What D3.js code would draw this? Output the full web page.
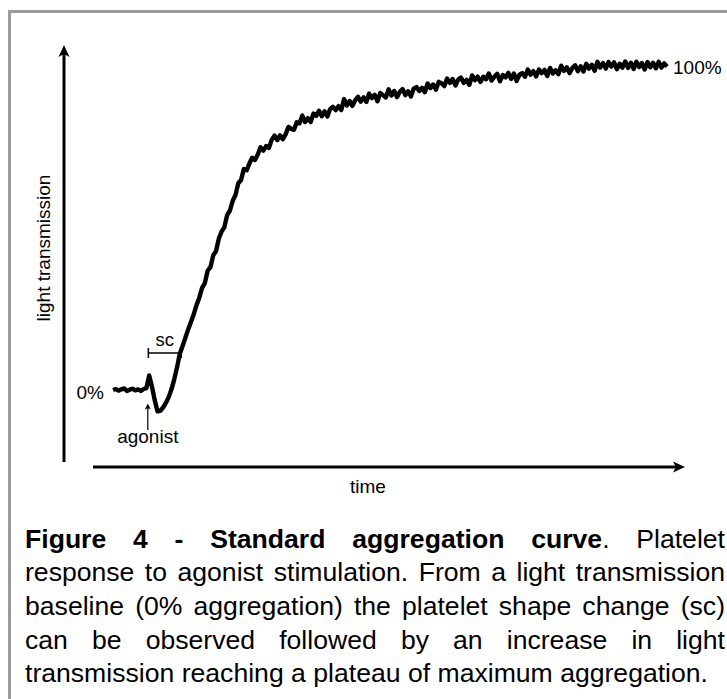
<!DOCTYPE html>
<html>
<head>
<meta charset="utf-8">
<script src="https://cdn.jsdelivr.net/npm/d3@7"></script>
<style>
	body { margin: 0; background: #fff; }
	svg { display: block; font-family: "Liberation Sans", Arial, Helvetica, sans-serif; }
</style>
</head>
<body>
<svg id="chart" width="727" height="699"></svg>
<script>
// light transmission (% aggregation), one sample per time step
var transmission = [
	0, 0.3, -0.2, 0.2, 0.5, -0.3, 0.1, 0.4, -0.1, 0.2, -0.3, 0.3, 0.6,
	4.5, 1.0, -3.2, -6.6, -6.4, -5.4, -4.0, -2.2, 0.2, 3.3, 7.0, 11.2, 13.6,
	16.1, 18.7, 21.0, 23.4, 26.2, 28.5, 31.5, 33.0, 36.8, 37.9, 41.6, 42.8, 46.7,
	48.9, 50.2, 54.0, 55.4, 58.4, 60.2, 63.8, 64.8, 68.2, 67.8, 69.9, 71.7,
	71.0, 72.7, 74.9, 73.9, 75.3, 74.7, 77.2, 78.5, 77.1, 78.6,
	77.4, 78.9, 81.2, 80.6, 80.3, 82.6, 82.3, 84.7, 82.7, 83.9,
	82.7, 85.3, 84.6, 86.2, 84.5, 86.0, 84.4, 86.7, 87.4, 86.4,
	87.6, 86.4, 89.8, 87.8, 89.2, 87.7, 89.4, 90.5, 89.0, 90.3,
	88.9, 91.5, 90.1, 91.1, 89.1, 91.7, 91.0, 90.3, 92.8, 90.9,
	92.3, 90.4, 92.0, 92.9, 91.0, 92.2, 90.6, 93.0, 93.5, 92.3,
	93.3, 91.9, 94.6, 93.2, 94.3, 92.7, 95.1, 94.7, 93.8, 96.1,
	94.8, 96.0, 94.0, 95.8, 96.4, 94.8, 95.7, 94.2, 97.1, 95.6,
	96.7, 95.1, 96.7, 95.9, 97.7, 95.5, 96.7, 97.6, 95.3, 97.2,
	96.5, 97.9, 96.0, 97.7, 95.4, 97.3, 97.8, 96.7, 98.9, 97.3,
	98.4, 96.8, 98.9, 97.8, 98.8, 96.9, 99.4, 97.7, 98.7, 97.5,
	100.1, 98.5, 99.6, 97.8, 99.4, 100.2, 98.4, 99.9, 98.3, 100.7,
	99.2, 100.4, 98.5, 101.3, 99.5, 100.9, 99.2, 101.2, 99.8, 101.1,
	99.0, 100.7, 99.5, 101.4, 99.4, 101.0, 99.1, 101.3, 99.7, 100.9,
	98.9, 101.2, 99.6, 101.0, 99.3, 101.3, 99.5, 100.8, 99.8
];

var levelValues = [0, 100];
var levelLabels = ['0%', '100%'];
var agonistTime = 12.5;
var scTimes = [12.7, 24.5];
var yTitle = 'light transmission';
var xTitle = 'time';

var captionLines = [
	'Figure 4 - Standard aggregation curve. Platelet',
	'response to agonist stimulation. From a light transmission',
	'baseline (0% aggregation) the platelet shape change (sc)',
	'can be observed followed by an increase in light',
	'transmission reaching a plateau of maximum aggregation.'
];
var boldWords = 6; // "Figure 4 - Standard aggregation curve"

var width = 727;
var height = 699;
var labelSize = 19;
var captionSize = 26.6;

var svg = d3.select('#chart');

// FRAME
svg
	.append('path')
	.attr('d', 'M9.5,' + height + 'V11.5H' + width)
	.attr('fill', 'none')
	.attr('stroke', '#9b9b9b')
	.attr('stroke-width', 3);

var x = d3
	.scaleLinear()
	.domain([0, transmission.length - 1])
	.range([113, 667]);

var y = d3
	.scaleLinear()
	.domain([0, 100])
	.range([390, 66]);

// ARROW HEADS
var defs = svg.append('defs');
defs
	.append('marker')
	.attr('id', 'arrow')
	.attr('markerUnits', 'userSpaceOnUse')
	.attr('viewBox', '0 0 12 12')
	.attr('refX', 3)
	.attr('refY', 6)
	.attr('markerWidth', 12)
	.attr('markerHeight', 12)
	.attr('orient', 'auto')
	.append('path')
	.attr('d', 'M0,0.5L12,6L0,11.5L3,6Z')
	.attr('fill', '#000');

defs
	.append('marker')
	.attr('id', 'arrowSmall')
	.attr('markerUnits', 'userSpaceOnUse')
	.attr('viewBox', '0 0 6 6')
	.attr('refX', 1.5)
	.attr('refY', 3)
	.attr('markerWidth', 6)
	.attr('markerHeight', 6)
	.attr('orient', 'auto')
	.append('path')
	.attr('d', 'M0,0L6,3L0,6L1.5,3Z')
	.attr('fill', '#000');

// AXES
svg
	.append('line')
	.attr('x1', 64).attr('y1', 462)
	.attr('x2', 64).attr('y2', 54)
	.attr('stroke', '#000')
	.attr('stroke-width', 3)
	.attr('marker-end', 'url(#arrow)');

svg
	.append('line')
	.attr('x1', 93).attr('y1', 467)
	.attr('x2', 676).attr('y2', 467)
	.attr('stroke', '#000')
	.attr('stroke-width', 3)
	.attr('marker-end', 'url(#arrow)');

svg
	.append('text')
	.attr('transform', 'translate(50,248) rotate(-90)')
	.attr('text-anchor', 'middle')
	.attr('font-size', labelSize)
	.text(yTitle);

svg
	.append('text')
	.attr('x', 368)
	.attr('y', 493)
	.attr('text-anchor', 'middle')
	.attr('font-size', labelSize)
	.text(xTitle);

// CURVE
var line = d3
	.line()
	.x(function(d, i){ return x(i); })
	.y(function(d){ return y(d); });

svg
	.append('path')
	.datum(transmission)
	.attr('d', line)
	.attr('fill', 'none')
	.attr('stroke', '#000')
	.attr('stroke-width', 4.4)
	.attr('stroke-linejoin', 'round');

// 0% / 100% LABELS
svg
	.selectAll('.level')
	.data(levelValues)
	.enter()
	.append('text')
	.attr('class', 'level')
	.attr('x', function(d, i){ return i == 0 ? x(0) - 9 : x(transmission.length - 1) + 6; })
	.attr('y', function(d, i){ return y(d) + (i == 0 ? 9 : 8); })
	.attr('text-anchor', function(d, i){ return i == 0 ? 'end' : 'start'; })
	.attr('font-size', labelSize)
	.text(function(d, i){ return levelLabels[i]; });

// SHAPE CHANGE BAR
var scY = 353;
svg
	.append('line')
	.attr('x1', x(scTimes[0])).attr('x2', x(scTimes[1]))
	.attr('y1', scY).attr('y2', scY)
	.attr('stroke', '#000')
	.attr('stroke-width', 1.5);

svg
	.selectAll('.sctick')
	.data(scTimes)
	.enter()
	.append('line')
	.attr('class', 'sctick')
	.attr('x1', function(d){ return x(d); })
	.attr('x2', function(d){ return x(d); })
	.attr('y1', scY - 5)
	.attr('y2', scY + 5)
	.attr('stroke', '#000')
	.attr('stroke-width', 1.5);

svg
	.append('text')
	.attr('x', x(d3.mean(scTimes)))
	.attr('y', scY - 7)
	.attr('text-anchor', 'middle')
	.attr('font-size', 18.5)
	.text('sc');

// AGONIST ARROW
svg
	.append('line')
	.attr('x1', x(agonistTime)).attr('x2', x(agonistTime))
	.attr('y1', 430).attr('y2', 408)
	.attr('stroke', '#000')
	.attr('stroke-width', 1.2)
	.attr('marker-end', 'url(#arrowSmall)');

svg
	.append('text')
	.attr('x', x(agonistTime))
	.attr('y', 443)
	.attr('text-anchor', 'middle')
	.attr('font-size', labelSize)
	.text('agonist');

// CAPTION (justified, last line left aligned)
var captionLeft = 25;
var captionRight = 725;
var captionTop = 547.5;
var lineStep = 33.7;

captionLines.forEach(function(str, li){
	var words = str.split(' ');
	var g = svg.append('g').attr('class', 'caption-line');
	var items = words.map(function(w, wi){
		var t = g
			.append('text')
			.attr('y', captionTop + li * lineStep)
			.attr('font-size', captionSize);
		if (li == 0 && wi < boldWords) {
			var core = w.replace(/\.$/, '');
			t.append('tspan').attr('font-weight', 'bold').text(core);
			if (core != w) t.append('tspan').text('.');
		} else {
			t.text(w);
		}
		return t;
	});
	var widths = items.map(function(t){ return t.node().getComputedTextLength(); });
	var gap = (li < captionLines.length - 1)
		? (captionRight - captionLeft - d3.sum(widths)) / (words.length - 1)
		: captionSize * 0.278;
	var cx = captionLeft;
	items.forEach(function(t, i){
		t.attr('x', cx);
		cx += widths[i] + gap;
	});
});
</script>
</body>
</html>
